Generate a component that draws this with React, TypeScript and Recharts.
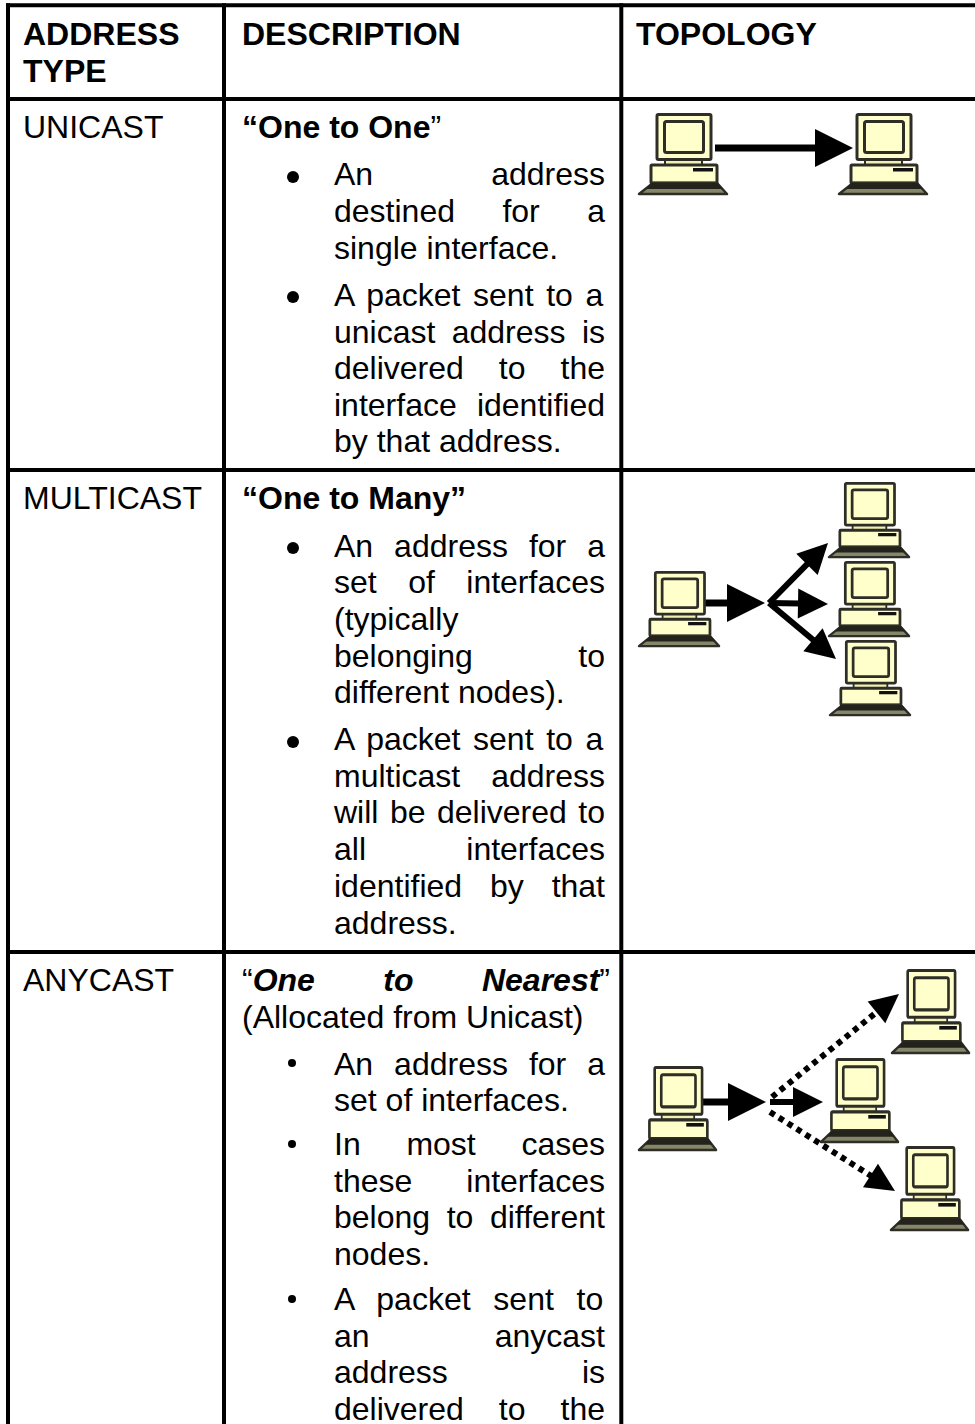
import React from 'react';
import { ScatterChart, Scatter, XAxis, YAxis, ReferenceLine } from 'recharts';

const WIDTH = 975;
const HEIGHT = 1424;
const FONT = '"Liberation Sans", Arial, sans-serif';
const FONT_SIZE = 32;

// Table rules, in page pixels
const columnRules = [8, 224, 621.3];
const rowRules = [5.3, 99, 470, 952];

type Seg = { t: string; bold?: boolean; italic?: boolean };
type TextLine = { y: number; text?: string; segs?: Seg[]; justify?: boolean; bold?: boolean };

const headerType: TextLine[] = [
  { y: 45, text: 'ADDRESS', bold: true },
  { y: 82, text: 'TYPE', bold: true },
];
const headerDescription: TextLine[] = [{ y: 45, text: 'DESCRIPTION', bold: true }];
const headerTopology: TextLine[] = [{ y: 45, text: 'TOPOLOGY', bold: true }];

const addressTypes: TextLine[] = [
  { y: 138, text: 'UNICAST' },
  { y: 509, text: 'MULTICAST' },
  { y: 991, text: 'ANYCAST' },
];

const leadLines: TextLine[] = [
  { y: 138, segs: [{ t: '“One to One', bold: true }, { t: '”' }] },
  { y: 509, text: '“One to Many”', bold: true },
  {
    y: 991,
    justify: true,
    segs: [{ t: '“' }, { t: 'One to Nearest', bold: true, italic: true }, { t: '”' }],
  },
  { y: 1028, text: '(Allocated from Unicast)' },
];

const itemLines: TextLine[] = [
  { y: 185, text: 'An address', justify: true },
  { y: 222, text: 'destined for a', justify: true },
  { y: 259, text: 'single interface.' },
  { y: 306, text: 'A packet sent to a', justify: true },
  { y: 343, text: 'unicast address is', justify: true },
  { y: 379, text: 'delivered to the', justify: true },
  { y: 416, text: 'interface identified', justify: true },
  { y: 452, text: 'by that address.' },

  { y: 557, text: 'An address for a', justify: true },
  { y: 593, text: 'set of interfaces', justify: true },
  { y: 630, text: '(typically' },
  { y: 667, text: 'belonging to', justify: true },
  { y: 703, text: 'different nodes).' },
  { y: 750, text: 'A packet sent to a', justify: true },
  { y: 787, text: 'multicast address', justify: true },
  { y: 823, text: 'will be delivered to', justify: true },
  { y: 860, text: 'all interfaces', justify: true },
  { y: 897, text: 'identified by that', justify: true },
  { y: 934, text: 'address.' },

  { y: 1075, text: 'An address for a', justify: true },
  { y: 1111, text: 'set of interfaces.' },
  { y: 1155, text: 'In most cases', justify: true },
  { y: 1192, text: 'these interfaces', justify: true },
  { y: 1228, text: 'belong to different', justify: true },
  { y: 1265, text: 'nodes.' },
  { y: 1310, text: 'A packet sent to', justify: true },
  { y: 1347, text: 'an anycast', justify: true },
  { y: 1383, text: 'address is', justify: true },
  { y: 1420, text: 'delivered to the', justify: true },
];

const roundBullets = [177, 297, 548, 742].map((y) => ({ x: 293, y }));
const smallBullets = [1063, 1144, 1299].map((y) => ({ x: 292, y }));

// Top left corner of each computer
const unicastHosts = [
  { x: 638, y: 113 },
  { x: 838, y: 113 },
];
const multicastHosts = [
  { x: 638, y: 571 },
  { x: 828, y: 482 },
  { x: 828, y: 561 },
  { x: 829, y: 640 },
];
const anycastHosts = [
  { x: 638, y: 1066 },
  { x: 891, y: 969 },
  { x: 820, y: 1058 },
  { x: 890, y: 1146 },
];

type Link = { x1: number; y1: number; x2: number; y2: number; kind: 'main' | 'branch' | 'dotted' };

const links: Link[] = [
  { x1: 715, y1: 148, x2: 853, y2: 148, kind: 'main' },

  { x1: 705, y1: 603, x2: 765, y2: 603, kind: 'main' },
  { x1: 769, y1: 603, x2: 828, y2: 543, kind: 'branch' },
  { x1: 769, y1: 603, x2: 828, y2: 604, kind: 'branch' },
  { x1: 769, y1: 603, x2: 836, y2: 659, kind: 'branch' },

  { x1: 702, y1: 1102, x2: 766, y2: 1102, kind: 'main' },
  { x1: 770, y1: 1102, x2: 823, y2: 1102, kind: 'branch' },
  { x1: 772, y1: 1097, x2: 899, y2: 994, kind: 'dotted' },
  { x1: 770, y1: 1112, x2: 895, y2: 1191, kind: 'dotted' },
];

const linkStyle = {
  main: { width: 7, dash: undefined, length: 38, half: 19 },
  branch: { width: 6, dash: undefined, length: 30, half: 15 },
  dotted: { width: 6, dash: '5.5 5', length: 29, half: 14 },
};

const measure = document.createElement('canvas').getContext('2d');

function textWidth(segs: Seg[]) {
  let w = 0;
  segs.forEach((s) => {
    measure!.font = `${s.italic ? 'italic ' : ''}${s.bold ? 'bold ' : ''}${FONT_SIZE}px ${FONT}`;
    w += measure!.measureText(s.t).width;
  });
  return w;
}

const LineShape = ({ cx, cy, payload, right }: any) => {
  const line: TextLine = payload;
  const segs: Seg[] = line.segs || [{ t: line.text || '', bold: line.bold }];
  let spacing = 0;
  if (line.justify) {
    const gaps = segs.map((s) => s.t).join('').split(' ').length - 1;
    spacing = (right - cx - textWidth(segs)) / gaps;
  }
  return (
    <text x={cx} y={cy} fontFamily={FONT} fontSize={FONT_SIZE} fill="#000" style={{ wordSpacing: spacing }}>
      {segs.map((s, i) => (
        <tspan key={i} fontWeight={s.bold ? 'bold' : 'normal'} fontStyle={s.italic ? 'italic' : 'normal'}>
          {s.t}
        </tspan>
      ))}
    </text>
  );
};

const Computer = ({ cx, cy, w, h }: any) => {
  const line = '#2e2e26';
  const cream = '#ffffcc';
  return (
    <g
      transform={`translate(${cx} ${cy}) scale(${w / 90} ${h / 83})`}
      stroke={line}
      strokeLinejoin="round"
      style={{ filter: 'blur(0.5px)' }}
    >
      <rect x={19} y={1.5} width={54} height={45} rx={1.5} fill={cream} strokeWidth={3} />
      <rect x={26.5} y={8.5} width={39} height={31} rx={2} fill={cream} strokeWidth={3} />
      <rect x={27} y={47} width={37} height={5} fill="#f0f0b4" strokeWidth={2} />
      <rect x={13} y={52} width={66} height={18} rx={1} fill={cream} strokeWidth={3} />
      <rect x={55} y={55} width={20} height={3.5} fill="#111" stroke="none" />
      <path d="M15 70 L79 70 L89 81 L1 81 Z" fill="#86866a" strokeWidth={2.5} />
      <path d="M13 70 L80 70 L85 76 L8 76 Z" fill="#23231b" stroke="none" />
    </g>
  );
};

const Head = ({ cx, cy, payload }: any) => {
  const s = linkStyle[payload.kind as Link['kind']];
  const deg = (Math.atan2(payload.y2 - payload.y1, payload.x2 - payload.x1) * 180) / Math.PI;
  return (
    <polygon
      points={`0,0 ${-s.length},${-s.half} ${-s.length},${s.half}`}
      transform={`translate(${cx} ${cy}) rotate(${deg})`}
      fill="#000"
    />
  );
};

// Shaft stops where the arrow head starts
function shaft(l: Link) {
  const len = Math.hypot(l.x2 - l.x1, l.y2 - l.y1);
  const back = (linkStyle[l.kind].length - 2) / len;
  return [
    { x: l.x1, y: l.y1 },
    { x: l.x2 - (l.x2 - l.x1) * back, y: l.y2 - (l.y2 - l.y1) * back },
  ];
}

const tips = links.map((l) => ({ ...l, x: l.x2, y: l.y2 }));

const textSeries = (lines: TextLine[], x: number, right: number, key: string) => (
  <Scatter
    key={key}
    data={lines.map((l) => ({ ...l, x }))}
    isAnimationActive={false}
    shape={(p: any) => <LineShape {...p} right={right} />}
  />
);

const hostSeries = (hosts: { x: number; y: number }[], w: number, h: number, key: string) => (
  <Scatter
    key={key}
    data={hosts}
    isAnimationActive={false}
    shape={(p: any) => <Computer cx={p.cx} cy={p.cy} w={w} h={h} />}
  />
);

export default function App() {
  return (
    <div style={{ position: 'absolute', left: 0, top: 0, width: WIDTH, height: HEIGHT, background: '#fff' }}>
      <ScatterChart width={WIDTH} height={HEIGHT} margin={{ top: 0, right: 0, bottom: 0, left: 0 }}>
        <XAxis type="number" dataKey="x" domain={[0, WIDTH]} hide />
        <YAxis type="number" dataKey="y" domain={[0, HEIGHT]} reversed hide />

        {columnRules.map((x) => (
          <ReferenceLine key={`c${x}`} segment={[{ x, y: 3.3 }, { x, y: HEIGHT }]} stroke="#000" strokeWidth={4} />
        ))}
        {rowRules.map((y) => (
          <ReferenceLine key={`r${y}`} segment={[{ x: 6, y }, { x: WIDTH, y }]} stroke="#000" strokeWidth={4} />
        ))}

        {links.map((l, i) => (
          <ReferenceLine
            key={`l${i}`}
            segment={shaft(l)}
            stroke="#000"
            strokeWidth={linkStyle[l.kind].width}
            strokeDasharray={linkStyle[l.kind].dash}
          />
        ))}

        {textSeries(headerType, 23, 0, 'ht')}
        {textSeries(headerDescription, 242, 0, 'hd')}
        {textSeries(headerTopology, 636, 0, 'hp')}
        {textSeries(addressTypes, 23, 0, 'types')}
        {textSeries(leadLines, 242, 610, 'lead')}
        {textSeries(itemLines, 334, 605, 'items')}

        <Scatter
          data={roundBullets}
          isAnimationActive={false}
          shape={(p: any) => <circle cx={p.cx} cy={p.cy} r={6} fill="#000" />}
        />
        <Scatter
          data={smallBullets}
          isAnimationActive={false}
          shape={(p: any) => <circle cx={p.cx} cy={p.cy} r={4} fill="#000" />}
        />

        {hostSeries(unicastHosts, 90, 83, 'uni')}
        {hostSeries(multicastHosts, 82, 77, 'multi')}
        {hostSeries(anycastHosts, 79, 86, 'any')}

        <Scatter data={tips} isAnimationActive={false} shape={(p: any) => <Head {...p} />} />
      </ScatterChart>
    </div>
  );
}
